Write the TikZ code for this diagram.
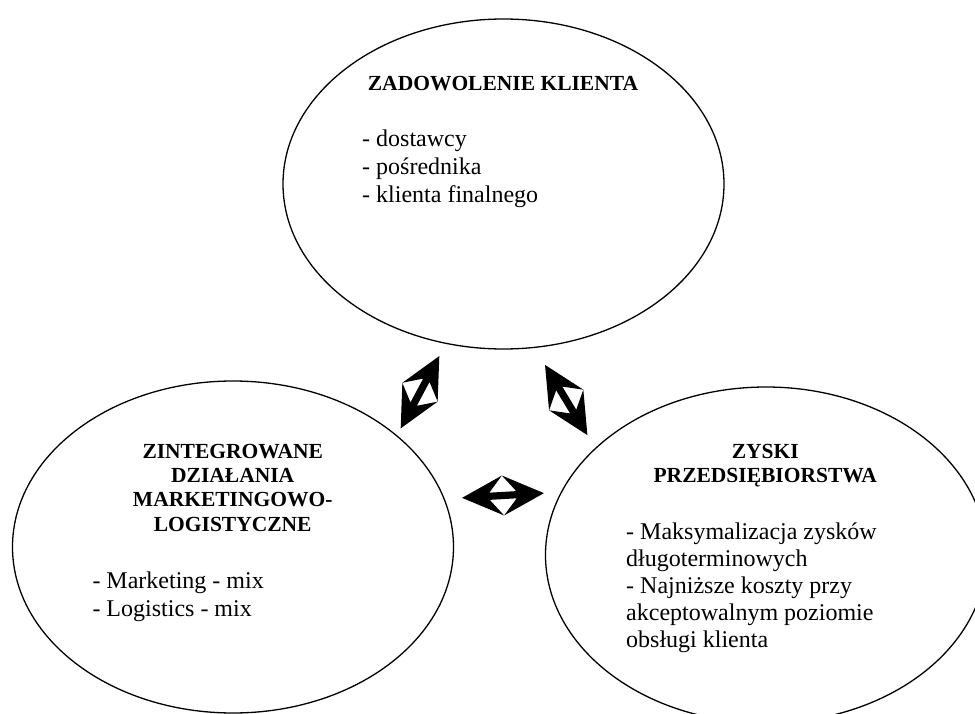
\documentclass[tikz,border=0pt]{standalone}
\usepackage{fontspec}
\setmainfont{Liberation Serif}
\usetikzlibrary{shapes.geometric}
\tikzset{
  oval/.style={ellipse, draw=black, line width=1.3pt, inner sep=0pt, minimum width=441pt, minimum height=332pt},
  ttl/.style={font=\bfseries\fontsize{21.5}{24}\selectfont, inner sep=0pt, anchor=base},
  lbl/.style={font=\fontsize{24}{28}\selectfont, inner sep=0pt, anchor=base west},
  blockarrow/.pic={
    \fill[black] (-41,0) -- (0,20) -- (-13.5,3.6) -- (13.5,3.6) -- (0,20) -- (41,0)
      -- (0,-20) -- (13.5,-3.6) -- (-13.5,-3.6) -- (0,-20) -- cycle;
  }
}
\begin{document}
\begin{tikzpicture}[x=1pt,y=-1pt]
\useasboundingbox (0,0) rectangle (975,714);
% ellipses
\node[oval, minimum height=330pt] (top) at (503.5,184) {};
\node[oval] (left) at (233,547) {};
\node[oval, minimum height=336pt] (right) at (766,555) {};
% top texts
\node[ttl] (tt) at (503,91) {ZADOWOLENIE KLIENTA};
\node[lbl] (t1) at (362,147) {- dostawcy};
\node[lbl] (t2) at (362,175) {- pośrednika};
\node[lbl] (t3) at (362,203) {- klienta finalnego};
% left texts
\node[ttl] (lt1) at (232.7,458) {ZINTEGROWANE};
\node[ttl] (lt2) at (232.7,482) {DZIAŁANIA};
\node[ttl] (lt3) at (232.7,506.5) {MARKETINGOWO-};
\node[ttl] (lt4) at (232.7,531) {LOGISTYCZNE};
\node[lbl] (l1) at (92.3,588) {- Marketing - mix};
\node[lbl] (l2) at (92.3,616.5) {- Logistics - mix};
% right texts
\node[ttl] (rt1) at (765.3,458) {ZYSKI};
\node[ttl] (rt2) at (765.3,482) {PRZEDSIĘBIORSTWA};
\node[lbl] (r1) at (626,539) {- Maksymalizacja zysków};
\node[lbl] (r2) at (626,566) {długoterminowych};
\node[lbl] (r3) at (626,593) {- Najniższe koszty przy};
\node[lbl] (r4) at (626,620) {akceptowalnym poziomie};
\node[lbl] (r5) at (626,647.5) {obsługi klienta};
% block arrows
\coordinate (a1) at (420,392.2);
\coordinate (a2) at (566.2,400);
\coordinate (a3) at (503,495.5);
\pic[rotate=61.9] at (a1) {blockarrow};
\pic[rotate=-58.9] at (a2) {blockarrow};
\pic[rotate=3.3] at (a3) {blockarrow};
\end{tikzpicture}
\end{document}
